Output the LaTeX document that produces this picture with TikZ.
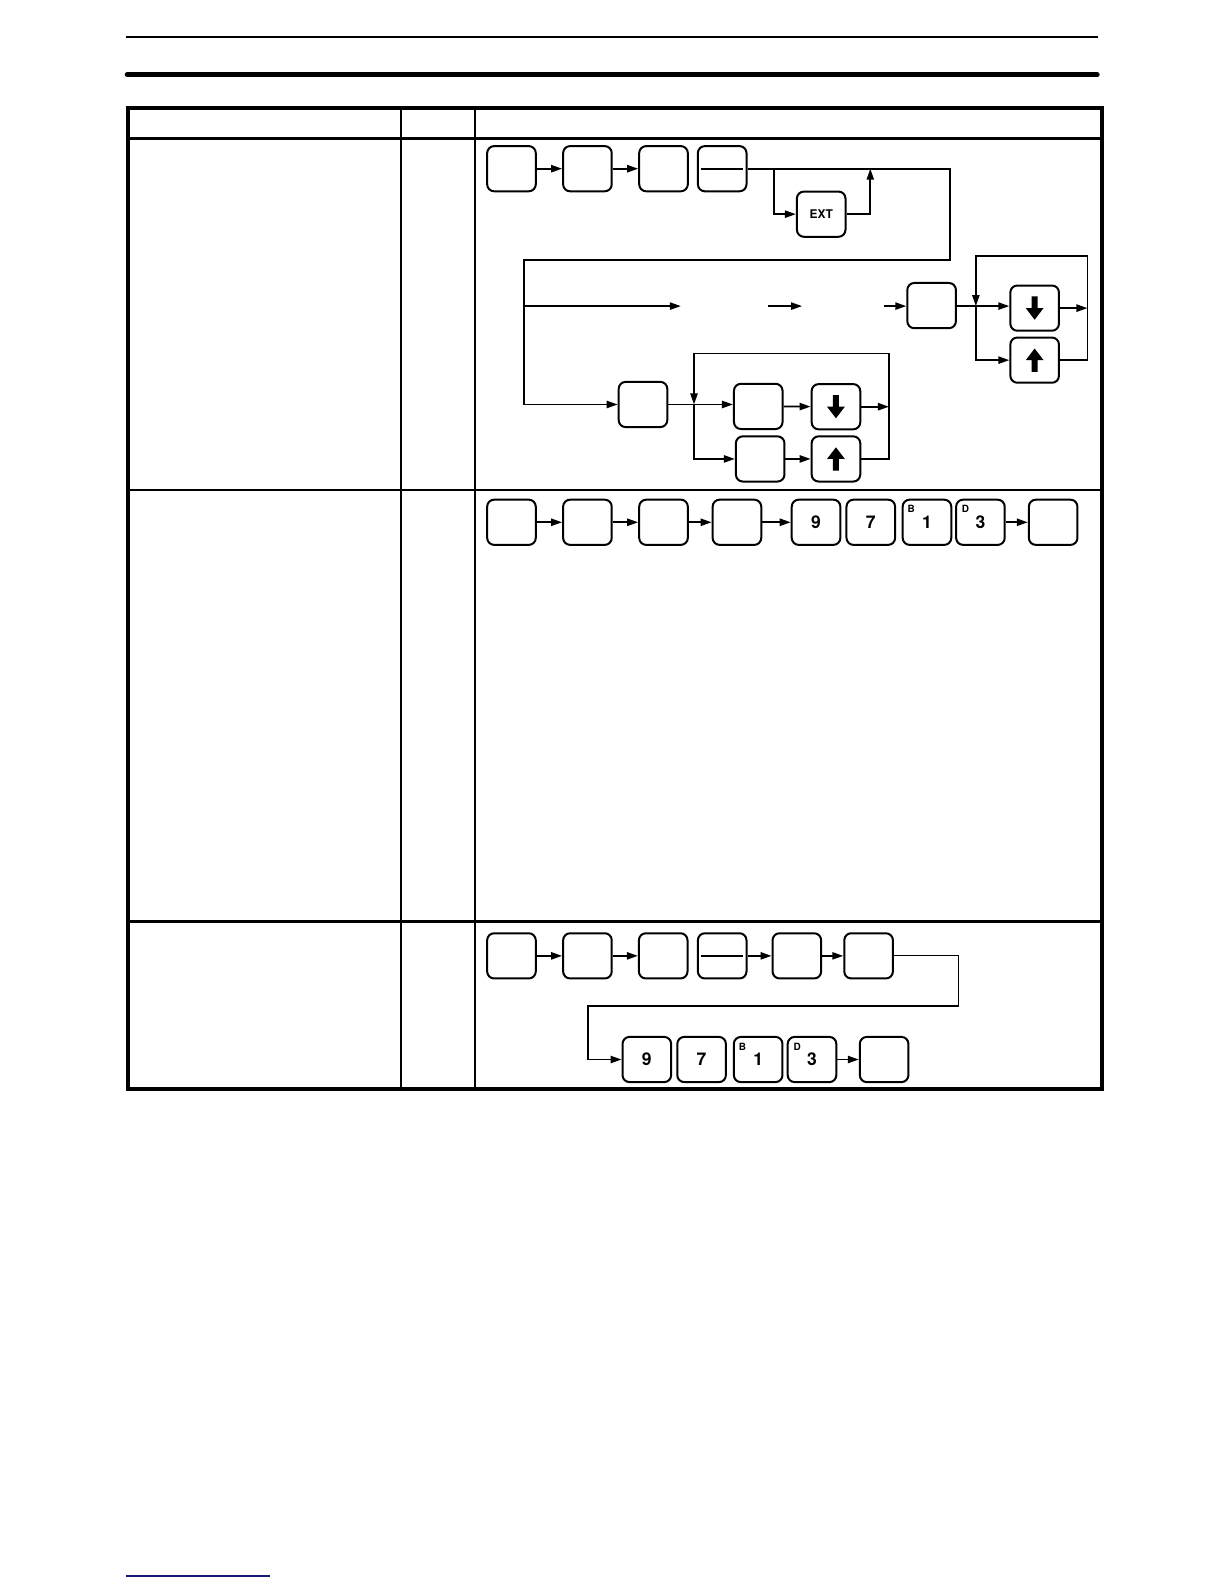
\documentclass[tikz,border=0pt]{standalone}
\usepackage{fontspec}
\setmainfont{TeX Gyre Heros}
\usepackage{xcolor}
\usetikzlibrary{arrows.meta,positioning,calc}
\definecolor{navyrule}{RGB}{25,25,120}
\tikzset{
  key/.style={rectangle, rounded corners=3.5bp, draw=black, line width=1bp,
    minimum width=24.3bp, minimum height=22.6bp, inner sep=0pt,
    font=\fontsize{8.8}{10}\selectfont\bfseries},
  extkey/.style={key, font=\fontsize{6}{7}\selectfont\bfseries},
  shf/.style={font=\fontsize{5}{5}\selectfont\bfseries, inner sep=0pt, anchor=north west},
  conn/.style={line width=0.9bp, draw=black},
  thinconn/.style={line width=0.6bp, draw=black},
  tr/.style={conn, -{Triangle[length=5.5bp,width=3.6bp]}},
}
\newcommand{\dnglyph}[1]{\fill (#1.center) ++(-3,-11.5) -- ++(6,0) -- ++(0,11.5) -- ++(5.8,0) -- ++(-8.8,11.5) -- ++(-8.8,-11.5) -- ++(5.8,0) -- cycle;}
\newcommand{\upglyph}[1]{\fill (#1.center) ++(-3,11.5) -- ++(6,0) -- ++(0,-11.5) -- ++(5.8,0) -- ++(-8.8,-11.5) -- ++(-8.8,11.5) -- ++(5.8,0) -- cycle;}
\begin{document}
\begin{tikzpicture}[x=0.50495bp, y=-0.50495bp]
  \useasboundingbox (0,0) rectangle (1212,1568);
  % page rules
  \draw[line width=0.9bp] (125,37) -- (1087,37);
  \draw[line width=2.6bp, line cap=round] (126,74) -- (1086,74);
  \draw[navyrule, line width=1bp] (125,1560) -- (267,1560);
  % table
  \draw[line width=1.8bp] (127,107) rectangle (1091,1078);
  \draw[line width=1.4bp] (127,137) -- (1091,137);
  \draw[line width=1bp] (127,485) -- (1091,485);
  \draw[line width=1.2bp] (127,912) -- (1091,912);
  \draw[line width=1bp] (397,107) -- (397,1078);
  \draw[line width=1.2bp] (470,107) -- (470,1078);

  % row 1
  \node[key] (k1) at (506.3,167) {};
  \node[key] (k2) at (581.5,167) {};
  \node[key] (k3) at (656.8,167) {};
  \node[key] (k4) at (714.9,167) {};
  \draw[conn] ($(k4.west)+(4,0)$) -- ($(k4.east)+(-4,0)$);
  \node[extkey] (ext) at (812.9,212) {EXT};
  \node[key] (srch) at (922.2,302.5) {};
  \node[key] (dnA) at (1024.2,305) {};
  \node[key] (upA) at (1024.2,356.5) {};
  \node[key] (mon) at (636.5,400.4) {};
  \node[key] (valA) at (750.6,402.3) {};
  \node[key] (dnB) at (827.5,402.6) {};
  \node[key] (valB) at (752.5,454.3) {};
  \node[key] (upB) at (827.5,454.3) {};
  \dnglyph{dnA} \upglyph{upA} \dnglyph{dnB} \upglyph{upB}

  \draw[tr] (k1) -- (k2);
  \draw[tr] (k2) -- (k3);
  \coordinate (cR) at (940,257.5);
  \coordinate (cL) at (519,257.5);
  \draw[tr] (k4.east) -- (cR |- k4) -- (cR) -- (cL) -- (cL |- mon) -- (mon.west);
  \coordinate (xb) at (766,167);
  \draw[tr] (xb) -- (xb |- ext) -- (ext.west);
  \coordinate (xr) at (861.5,167);
  \draw[tr] (ext.east) -- (xr |- ext) -- (xr);

  % open arrows
  \coordinate (m0) at (519,303);
  \coordinate (m1) at (674,303);
  \coordinate (m2) at (760,303);
  \coordinate (m3) at (794,303);
  \coordinate (m4) at (875,303);
  \draw[tr] (m0) -- (m1);
  \draw[tr] (m2) -- (m3);
  \draw[tr] (m4) -- (m4 -| srch.west);

  % loop right
  \coordinate (jA) at (966,303);
  \coordinate (lpA) at (1076.5,253.2);
  \draw[tr] (srch.east |- jA) -- (jA) -- (jA -| dnA.west);
  \draw[tr] (dnA.east) -- (lpA |- dnA);
  \draw[tr] (upA.east) -- (lpA |- upA) -- (lpA) -- (jA |- lpA) -- (jA);
  \draw[tr] (jA) -- (jA |- upA) -- (upA.west);

  % loop lower
  \coordinate (jB) at (687,400.4);
  \coordinate (lpB) at (880,350);
  \draw[tr] (mon.east) -- (jB) -- (jB -| valA.west);
  \draw[tr] (valA) -- (dnB);
  \draw[tr] (dnB.east) -- (lpB |- dnB);
  \draw[tr] (upB.east) -- (lpB |- upB) -- (lpB) -- (jB |- lpB) -- (jB);
  \draw[tr] (jB) -- (jB |- valB) -- (valB.west);
  \draw[tr] (valB) -- (upB);

  % row 2
  \node[key] (r1) at (506.3,517) {};
  \node[key] (r2) at (581.5,517) {};
  \node[key] (r3) at (656.8,517) {};
  \node[key] (r4) at (729.5,517) {};
  \node[key] (n9) at (807.8,517) {9};
  \node[key] (n7) at (862,517) {7};
  \node[key] (n1) at (917.6,517) {1};
  \node[key] (n3) at (970.5,517) {3};
  \node[key] (wr) at (1042.5,517) {};
  \node[shf] (n1s) at ([xshift=2.8bp,yshift=-3.3bp]n1.north west) {B};
  \node[shf] (n3s) at ([xshift=3.2bp,yshift=-3.3bp]n3.north west) {D};
  \draw[tr] (r1) -- (r2);
  \draw[tr] (r2) -- (r3);
  \draw[tr] (r3) -- (r4);
  \draw[tr] (r4) -- (n9);
  \draw[tr] (n3) -- (wr);

  % row 3
  \node[key] (s1) at (506.3,946.2) {};
  \node[key] (s2) at (581.5,946.2) {};
  \node[key] (s3) at (656.5,946.2) {};
  \node[key] (s4) at (714.9,946.2) {};
  \draw[conn] ($(s4.west)+(4,0)$) -- ($(s4.east)+(-4,0)$);
  \node[key] (s5) at (788.8,946.2) {};
  \node[key] (s6) at (859.8,946.2) {};
  \node[key] (t9) at (640.3,1048.8) {9};
  \node[key] (t7) at (694.5,1048.8) {7};
  \node[key] (t1) at (750.5,1048.8) {1};
  \node[key] (t3) at (803.8,1048.8) {3};
  \node[key] (tw) at (875.2,1048.8) {};
  \node[shf] (t1s) at ([xshift=2.8bp,yshift=-3.3bp]t1.north west) {B};
  \node[shf] (t3s) at ([xshift=3.2bp,yshift=-3.3bp]t3.north west) {D};
  \draw[tr] (s1) -- (s2);
  \draw[tr] (s2) -- (s3);
  \draw[tr] (s4) -- (s5);
  \draw[tr] (s5) -- (s6);
  \coordinate (sR) at (949,995.8);
  \coordinate (sL) at (582,995.8);
  \draw[thinconn] (s6.east) -- (sR |- s6) -- (sR);
  \draw[tr] (sR) -- (sL) -- (sL |- t9) -- (t9.west);
  \draw[tr] (t3) -- (tw);
\end{tikzpicture}
\end{document}
